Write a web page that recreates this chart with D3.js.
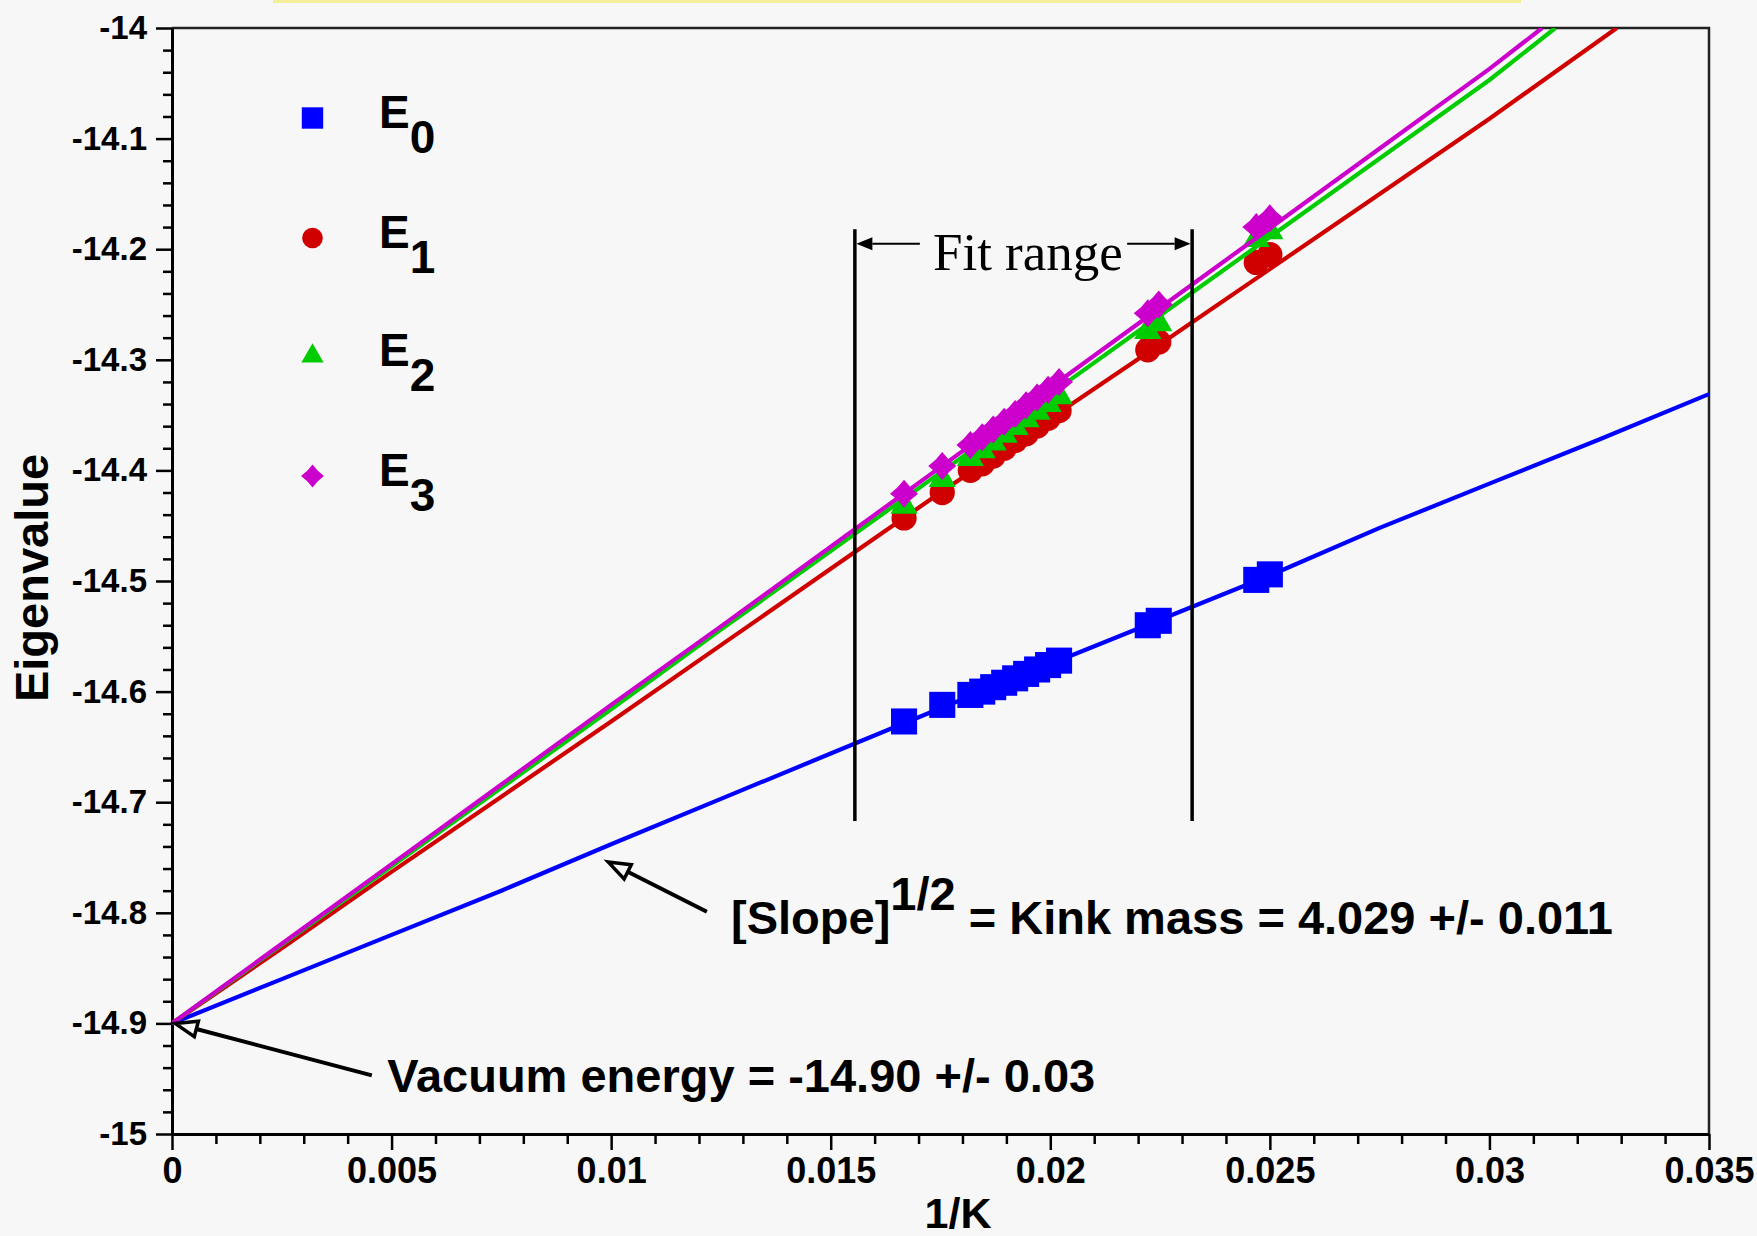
<!DOCTYPE html>
<html>
<head>
<meta charset="utf-8">
<style>
  body { margin: 0; background: #f7f7f7; }
  svg { display: block; }
  .axis text { font-family: "Liberation Sans", Arial, Helvetica, sans-serif; font-weight: bold; fill: #000; }
  .axis path, .axis line { stroke: #000; }
  .bold { font-family: "Liberation Sans", Arial, Helvetica, sans-serif; font-weight: bold; fill: #000; }
</style>
</head>
<body>
<svg id="chart"></svg>
<script src="https://d3js.org/d3.v7.min.js"></script>
<script>

// ---- data ----
var xTicks = [0, 0.005, 0.01, 0.015, 0.02, 0.025, 0.03, 0.035];
var xTickLabels = ["0", "0.005", "0.01", "0.015", "0.02", "0.025", "0.03", "0.035"];
var yTicks = [-15, -14.9, -14.8, -14.7, -14.6, -14.5, -14.4, -14.3, -14.2, -14.1, -14];
var yTickLabels = ["-15", "-14.9", "-14.8", "-14.7", "-14.6", "-14.5", "-14.4", "-14.3", "-14.2", "-14.1", "-14"];

var seriesNames = ["E", "E", "E", "E"];
var seriesSubs = ["0", "1", "2", "3"];
var seriesColors = ["#0000ff", "#d00000", "#00cc00", "#cc00cc"];

// fitted curves
var lineX  = [0, 0.0025, 0.005, 0.0075, 0.01, 0.0125, 0.015, 0.0175, 0.02, 0.0225, 0.025, 0.0275, 0.03];
var lineE0 = [-14.900, -14.860, -14.820, -14.780, -14.738, -14.697, -14.656, -14.615, -14.575, -14.535, -14.495, -14.452, -14.412];
var lineE1 = [-14.900, -14.832, -14.763, -14.695, -14.627, -14.558, -14.489, -14.420, -14.353, -14.286, -14.218, -14.150, -14.082];
var lineE2 = [-14.900, -14.829, -14.758, -14.687, -14.616, -14.544, -14.473, -14.402, -14.331, -14.260, -14.189, -14.118, -14.047];
var lineE3 = [-14.900, -14.828, -14.756, -14.684, -14.612, -14.541, -14.469, -14.397, -14.325, -14.253, -14.181, -14.109, -14.037];
var lineEndX = [0.0325, 0.0329, 0.0315, 0.0312];
var lineEndY = [-14.372, -14.000, -14.000, -14.000];
var lineTailX = 0.035;
var lineTailE0 = -14.331;

// measured eigenvalues
var pointX  = [0.01667, 0.01754, 0.01818, 0.01845, 0.01870, 0.01895, 0.01920, 0.01945, 0.01970, 0.01995, 0.02020, 0.02222, 0.02247, 0.02469, 0.02500];
var pointE0 = [-14.627, -14.612, -14.603, -14.600, -14.596, -14.592, -14.588, -14.584, -14.580, -14.576, -14.572, -14.540, -14.536, -14.499, -14.494];
var pointE1 = [-14.443, -14.420, -14.400, -14.394, -14.387, -14.380, -14.373, -14.367, -14.360, -14.353, -14.346, -14.291, -14.284, -14.212, -14.205];
var pointE2 = [-14.432, -14.408, -14.389, -14.382, -14.375, -14.368, -14.361, -14.354, -14.347, -14.340, -14.333, -14.274, -14.267, -14.191, -14.184];
var pointE3 = [-14.421, -14.396, -14.377, -14.370, -14.363, -14.356, -14.349, -14.341, -14.334, -14.327, -14.320, -14.258, -14.250, -14.180, -14.172];

// annotations (in data units)
var fitRangeX = [0.01555, 0.02323];
var fitRangeY = [-14.182, -14.717];
var fitArrowFrom = [0.01703, 0.02175];
var fitArrowY = -14.195;
var fitLabel = [0.01949, -14.219];
var vacuumArrow = [[0.00455, -14.947], [0.00007, -14.900]];
var vacuumLabel = [0.00490, -14.962];
var kinkArrow = [[0.01218, -14.799], [0.00993, -14.754]];
var kinkLabel = [0.01273, -14.819];

// ---- layout ----
var W = 1757, H = 1236;
var padL = 172, padR = 1709, padT = 28, padB = 1134;

var svg = d3.select("#chart").attr("width", W).attr("height", H);
svg.append("rect").attr("width", W).attr("height", H).attr("fill", "#f7f7f7");
svg.append("rect").attr("x", 273).attr("y", 0).attr("width", 1248).attr("height", 3).attr("fill", "#f4ee98");

var x = d3.scaleLinear().domain([0, 0.035]).range([padL, padR]);
var y = d3.scaleLinear().domain([-15, -14]).range([padB, padT]);

// frame (top / right)
svg.append("path")
  .attr("d", "M" + padL + "," + padT + "H" + padR + "V" + padB)
  .attr("fill", "none").attr("stroke", "#222").attr("stroke-width", 2.5);

// minor ticks
var xMinor = x.ticks(35).filter(function(d) { return Math.abs(d / 0.005 - Math.round(d / 0.005)) > 1e-6; });
var yMinor = y.ticks(50).filter(function(d) { return Math.abs(d * 10 - Math.round(d * 10)) > 1e-6; });

svg.append("g").attr("class", "axis").attr("transform", "translate(0," + padB + ")")
  .call(d3.axisBottom(x).tickValues(xMinor).tickSize(10).tickSizeOuter(0).tickFormat(""))
  .call(function(g) { g.selectAll("line").attr("stroke-width", 2.5); g.select(".domain").remove(); });
svg.append("g").attr("class", "axis").attr("transform", "translate(" + padL + ",0)")
  .call(d3.axisLeft(y).tickValues(yMinor).tickSize(9).tickSizeOuter(0).tickFormat(""))
  .call(function(g) { g.selectAll("line").attr("stroke-width", 2.5); g.select(".domain").remove(); });

// major axes
var xAxis = svg.append("g").attr("class", "axis").attr("transform", "translate(0," + padB + ")")
  .call(d3.axisBottom(x).tickValues(xTicks).tickFormat(function(d, i) { return xTickLabels[i]; })
    .tickSize(16).tickSizeOuter(0).tickPadding(7));
xAxis.select(".domain").attr("stroke-width", 3);
xAxis.selectAll("line").attr("stroke-width", 2.5);
xAxis.selectAll("text").style("font-size", "36px");

var yAxis = svg.append("g").attr("class", "axis").attr("transform", "translate(" + padL + ",0)")
  .call(d3.axisLeft(y).tickValues(yTicks).tickFormat(function(d, i) { return yTickLabels[i]; })
    .tickSize(16).tickSizeOuter(0).tickPadding(9));
yAxis.select(".domain").attr("stroke-width", 3);
yAxis.selectAll("line").attr("stroke-width", 2.5);
yAxis.selectAll("text").style("font-size", "33px");

// axis titles
svg.append("text").attr("class", "bold")
  .attr("transform", "translate(48," + ((padT + padB) / 2 - 3) + ") rotate(-90)")
  .attr("text-anchor", "middle").style("font-size", "47px").text("Eigenvalue");
svg.append("text").attr("class", "bold")
  .attr("x", 958).attr("y", 1228).attr("text-anchor", "middle")
  .style("font-size", "43px").text("1/K");

// ---- curves and points ----
svg.append("clipPath").attr("id", "plotclip").append("rect")
  .attr("x", padL).attr("y", padT).attr("width", padR - padL).attr("height", padB - padT);

var line = d3.line().x(function(d) { return x(d[0]); }).y(function(d) { return y(d[1]); });
var lineSeries = [lineE0, lineE1, lineE2, lineE3];
var pointSeries = [pointE0, pointE1, pointE2, pointE3];

function diamondPath(r) {
  var k = 0.46 * r;
  return "M0," + (-r) + "L" + k + "," + (-k) + "L" + r + ",0L" + k + "," + k +
    "L0," + r + "L" + (-k) + "," + k + "L" + (-r) + ",0L" + (-k) + "," + (-k) + "Z";
}
function markerPath(i, scale) {
  if (i == 0) return d3.symbol(d3.symbolSquare, 680 * scale * scale)();
  if (i == 1) return d3.symbol(d3.symbolCircle, 500 * scale * scale)();
  if (i == 2) return d3.symbol(d3.symbolTriangle, 320 * scale * scale)();
  return diamondPath(14 * scale);
}

var plot = svg.append("g").attr("clip-path", "url(#plotclip)");

lineSeries.forEach(function(vals, i) {
  var pts = lineX.map(function(xv, j) { return [xv, vals[j]]; });
  pts.push([lineEndX[i], lineEndY[i]]);
  if (i == 0) pts.push([lineTailX, lineTailE0]);
  plot.append("path").datum(pts)
    .attr("d", line)
    .attr("fill", "none")
    .attr("stroke", seriesColors[i])
    .attr("stroke-width", 4.2)
    .attr("stroke-linejoin", "round");

  plot.selectAll(".pt" + i)
    .data(pointX.map(function(xv, j) { return [xv, pointSeries[i][j]]; }))
    .enter().append("path")
    .attr("class", "pt" + i)
    .attr("transform", function(d) { return "translate(" + x(d[0]) + "," + y(d[1]) + ")"; })
    .attr("d", markerPath(i, 1))
    .attr("fill", seriesColors[i]);
});

// ---- legend ----
var legendY = [118, 238, 356, 476];
seriesNames.forEach(function(name, i) {
  svg.append("path")
    .attr("transform", "translate(312.5," + legendY[i] + ")")
    .attr("d", markerPath(i, 0.82))
    .attr("fill", seriesColors[i]);
  var t = svg.append("text").attr("class", "bold")
    .attr("x", 379).attr("y", legendY[i] + 10)
    .style("font-size", "46px");
  t.append("tspan").text(name);
  t.append("tspan").attr("dy", 25).text(seriesSubs[i]);
});

// ---- fit range ----
fitRangeX.forEach(function(fx) {
  svg.append("line")
    .attr("x1", x(fx)).attr("x2", x(fx))
    .attr("y1", y(fitRangeY[0])).attr("y2", y(fitRangeY[1]))
    .attr("stroke", "#000").attr("stroke-width", 3.5);
});

function filledArrow(x1, y1, x2, y2, len, half) {
  var a = Math.atan2(y2 - y1, x2 - x1);
  var bx = x2 - len * Math.cos(a), by = y2 - len * Math.sin(a);
  svg.append("line").attr("x1", x1).attr("y1", y1).attr("x2", bx).attr("y2", by)
    .attr("stroke", "#000").attr("stroke-width", 2);
  svg.append("path")
    .attr("d", "M" + x2 + "," + y2 +
      "L" + (bx - half * Math.sin(a)) + "," + (by + half * Math.cos(a)) +
      "L" + (bx + half * Math.sin(a)) + "," + (by - half * Math.cos(a)) + "Z")
    .attr("fill", "#000");
}
filledArrow(x(fitArrowFrom[0]), y(fitArrowY), x(fitRangeX[0]) + 1.5, y(fitArrowY), 16, 6.5);
filledArrow(x(fitArrowFrom[1]), y(fitArrowY), x(fitRangeX[1]) - 1.5, y(fitArrowY), 16, 6.5);

svg.append("text")
  .attr("x", x(fitLabel[0])).attr("y", y(fitLabel[1]))
  .attr("text-anchor", "middle")
  .style("font-family", "'Liberation Serif', 'Times New Roman', serif")
  .style("font-size", "53px")
  .text("Fit range");

// ---- open-headed annotation arrows ----
function openArrow(p0, p1) {
  var x1 = x(p0[0]), y1 = y(p0[1]), x2 = x(p1[0]), y2 = y(p1[1]);
  var a = Math.atan2(y2 - y1, x2 - x1);
  var len = 22, half = 8;
  var bx = x2 - len * Math.cos(a), by = y2 - len * Math.sin(a);
  svg.append("line").attr("x1", x1).attr("y1", y1).attr("x2", bx).attr("y2", by)
    .attr("stroke", "#000").attr("stroke-width", 4);
  svg.append("path")
    .attr("d", "M" + x2 + "," + y2 +
      "L" + (bx - half * Math.sin(a)) + "," + (by + half * Math.cos(a)) +
      "L" + (bx + half * Math.sin(a)) + "," + (by - half * Math.cos(a)) + "Z")
    .attr("fill", "#f7f7f7").attr("stroke", "#000").attr("stroke-width", 3.5)
    .attr("stroke-linejoin", "miter");
}
openArrow(vacuumArrow[0], vacuumArrow[1]);
openArrow(kinkArrow[0], kinkArrow[1]);

svg.append("text").attr("class", "bold")
  .attr("x", x(vacuumLabel[0])).attr("y", y(vacuumLabel[1]))
  .style("font-size", "47px")
  .text("Vacuum energy = -14.90 +/- 0.03");

var kt = svg.append("text").attr("class", "bold")
  .attr("x", x(kinkLabel[0])).attr("y", y(kinkLabel[1]))
  .style("font-size", "47px");
kt.append("tspan").text("[Slope]");
kt.append("tspan").attr("dy", -24).text("1/2");
kt.append("tspan").attr("dy", 24).text(" = Kink mass = 4.029 +/- 0.011");

</script>
</body>
</html>
